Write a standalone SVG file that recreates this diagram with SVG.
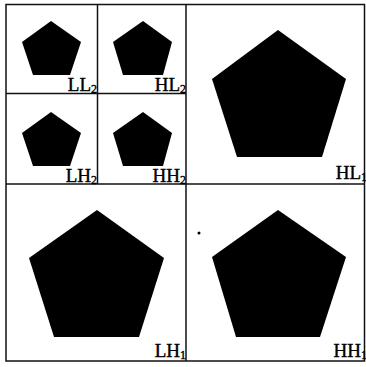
<svg xmlns="http://www.w3.org/2000/svg" width="366" height="367" viewBox="0 0 366 367">
<style>
.ln{stroke:#111;stroke-width:1.5;fill:none}
.pg{fill:#000}
.lb{font-family:"Liberation Serif","Times New Roman",serif;font-size:19px;fill:#000;stroke:#000;stroke-width:0.4}
.sb{font-size:12px}
</style>
<rect width="366" height="367" fill="#fff"/>
<g id="grid">
<rect class="ln" x="6" y="4.5" width="358.5" height="356.5"/>
<line class="ln" x1="186" y1="4.5" x2="186" y2="361"/>
<line class="ln" x1="6" y1="184" x2="364.5" y2="184"/>
<line class="ln" x1="97.5" y1="4.5" x2="97.5" y2="184"/>
<line class="ln" x1="6" y1="93.5" x2="186" y2="93.5"/>
</g>
<g id="LL2">
<polygon class="pg" points="51,21 81,42 70,75 33,75 22,42"/>
<text class="lb" x="97" y="91" text-anchor="end">LL<tspan class="sb" dy="2">2</tspan></text>
</g>
<g id="HL2">
<polygon class="pg" points="143,21 172,42 163,75 123,75 113,42"/>
<text class="lb" x="186" y="91" text-anchor="end">HL<tspan class="sb" dy="2">2</tspan></text>
</g>
<g id="LH2">
<polygon class="pg" points="51,112 81,133 70,166 33,166 22,133"/>
<text class="lb" x="97" y="182" text-anchor="end">LH<tspan class="sb" dy="2">2</tspan></text>
</g>
<g id="HH2">
<polygon class="pg" points="143,112 172,133 163,166 123,166 113,133"/>
<text class="lb" x="186" y="182" text-anchor="end">HH<tspan class="sb" dy="2">2</tspan></text>
</g>
<g id="HL1">
<polygon class="pg" points="278,30 346,79 322,157 237,157 212,79"/>
<text class="lb" x="367" y="179" text-anchor="end">HL<tspan class="sb" dy="2">1</tspan></text>
</g>
<g id="LH1">
<polygon class="pg" points="97,210 164,258 139,337 54,337 29,258"/>
<text class="lb" x="186" y="357" text-anchor="end">LH<tspan class="sb" dy="2">1</tspan></text>
</g>
<g id="HH1">
<polygon class="pg" points="278,210 346,257 320,337 236,337 212,257"/>
<text class="lb" x="367" y="357" text-anchor="end">HH<tspan class="sb" dy="2">1</tspan></text>
</g>
<circle cx="199" cy="233" r="1.5" fill="#000"/>
</svg>
